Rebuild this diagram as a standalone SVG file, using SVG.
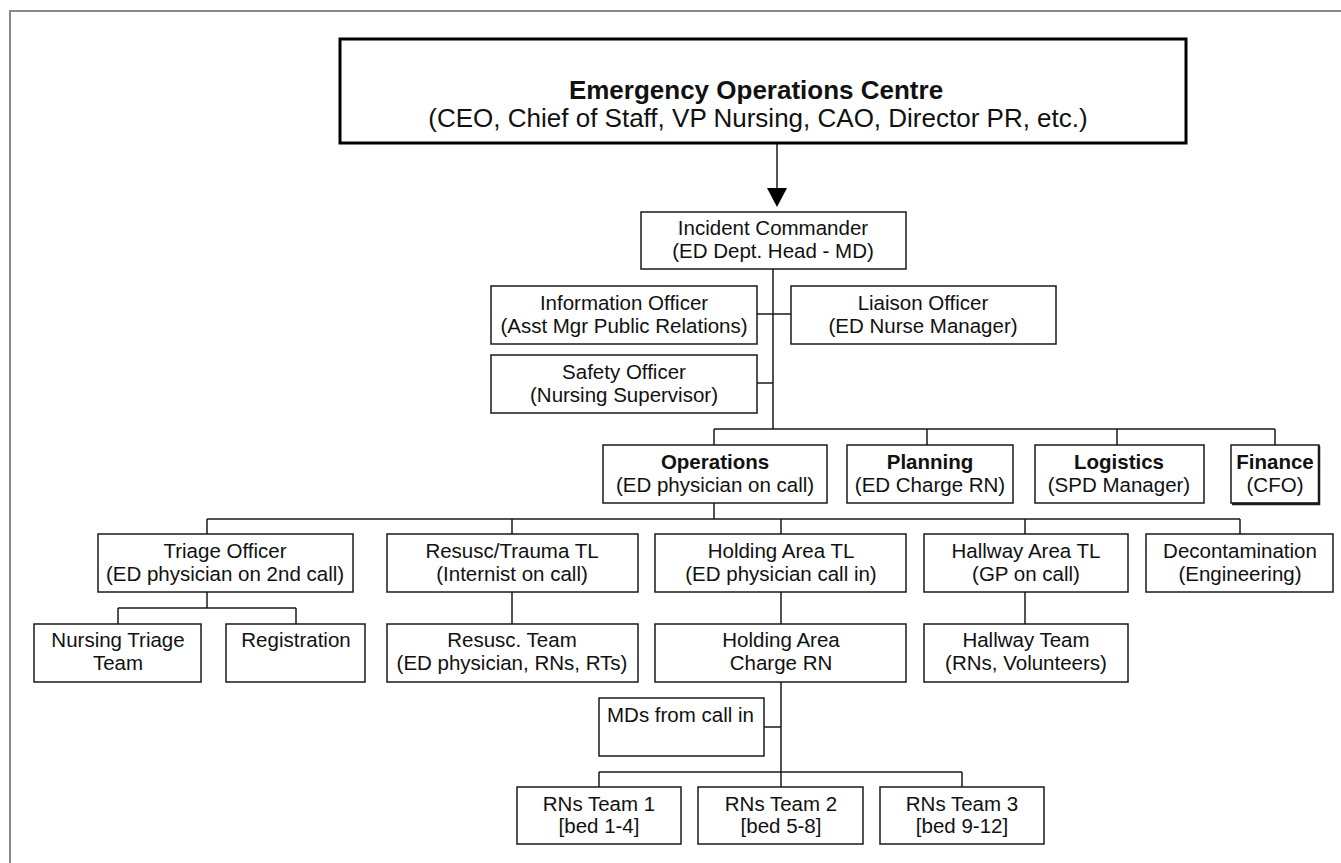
<svg xmlns="http://www.w3.org/2000/svg" width="1341" height="863" viewBox="0 0 1341 863">
<style>
.b{fill:#fff;stroke:#1a1a1a;stroke-width:1.5}
.c{fill:none;stroke:#1a1a1a;stroke-width:1.5}
text{font-family:"Liberation Sans",Arial,sans-serif;font-size:20.5px;fill:#111;text-anchor:middle}
.bo{font-weight:bold}
.t{font-size:26px}
</style>
<rect width="1341" height="863" fill="#fff"/>
<path d="M10,863 V11 H1341" fill="none" stroke="#8a8a8a" stroke-width="2"/>
<g id="connectors">
<line class="c" x1="777" y1="143" x2="777" y2="190"/>
<polygon points="767,188 787,188 777,207" fill="#000"/>
<path class="c" d="M773,269 V429 M757,314 H791 M757,383 H773 M714,429 H1275 M714,429 V445 M927,429 V445 M1117,429 V445 M1275,429 V445"/>
<path class="c" d="M714,503 V519 M207,519 H1240 M207,519 V534 M512,519 V534 M781,519 V534 M1025,519 V534 M1240,519 V534"/>
<path class="c" d="M207,592 V608 M118,608 H296 M118,608 V624 M296,608 V624 M512,592 V624 M781,592 V624 M1025,592 V624"/>
<path class="c" d="M781,682 V787 M764,727 H781 M599,772 H962 M599,772 V787 M962,772 V787"/>
</g>
<g id="eoc"><rect x="340" y="39" width="846" height="104" fill="#fff" stroke="#000" stroke-width="3"/>
<text class="t bo" x="756" y="99" font-size="27.5">Emergency Operations Centre</text>
<text class="t" x="758" y="127">(CEO, Chief of Staff, VP Nursing, CAO, Director PR, etc.)</text></g>
<g id="ic"><rect class="b" x="641" y="212" width="265" height="57"/><text x="773" y="235">Incident Commander</text><text x="773" y="258">(ED Dept. Head - MD)</text></g>
<g id="info"><rect class="b" x="491" y="286" width="266" height="58"/><text x="624" y="310">Information Officer</text><text x="624" y="333">(Asst Mgr Public Relations)</text></g>
<g id="liaison"><rect class="b" x="791" y="286" width="265" height="58"/><text x="923" y="310">Liaison Officer</text><text x="923" y="333">(ED Nurse Manager)</text></g>
<g id="safety"><rect class="b" x="491" y="355" width="266" height="58"/><text x="624" y="379">Safety Officer</text><text x="624" y="402">(Nursing Supervisor)</text></g>
<g id="operations"><rect class="b" x="603" y="445" width="224" height="58"/><text class="bo" x="715" y="469">Operations</text><text x="715" y="492">(ED physician on call)</text></g>
<g id="planning"><rect class="b" x="847" y="445" width="166" height="58"/><text class="bo" x="930" y="469">Planning</text><text x="930" y="492">(ED Charge RN)</text></g>
<g id="logistics"><rect class="b" x="1035" y="445" width="169" height="58"/><text class="bo" x="1119" y="469">Logistics</text><text x="1119" y="492">(SPD Manager)</text></g>
<g id="finance"><rect class="b" x="1231" y="445" width="88" height="58"/><path d="M1319,446 V504 H1232" fill="none" stroke="#1a1a1a" stroke-width="2.5"/><text class="bo" x="1275" y="469">Finance</text><text x="1275" y="492">(CFO)</text></g>
<g id="triage"><rect class="b" x="98" y="534" width="255" height="58"/><text x="225" y="558">Triage Officer</text><text x="225" y="581">(ED physician on 2nd call)</text></g>
<g id="resusc"><rect class="b" x="387" y="534" width="251" height="58"/><text x="512" y="558">Resusc/Trauma TL</text><text x="512" y="581">(Internist on call)</text></g>
<g id="holding"><rect class="b" x="655" y="534" width="251" height="58"/><text x="781" y="558">Holding Area TL</text><text x="781" y="581">(ED physician call in)</text></g>
<g id="hallway"><rect class="b" x="924" y="534" width="204" height="58"/><text x="1026" y="558">Hallway Area TL</text><text x="1026" y="581">(GP on call)</text></g>
<g id="decon"><rect class="b" x="1146" y="534" width="187" height="58"/><text x="1240" y="558">Decontamination</text><text x="1240" y="581">(Engineering)</text></g>
<g id="nursingtriage"><rect class="b" x="34" y="624" width="167" height="58"/><text x="118" y="647">Nursing Triage</text><text x="118" y="670">Team</text></g>
<g id="registration"><rect class="b" x="226" y="624" width="139" height="58"/><text x="296" y="647">Registration</text></g>
<g id="resuscteam"><rect class="b" x="387" y="624" width="251" height="58"/><text x="512" y="647">Resusc. Team</text><text x="512" y="670">(ED physician, RNs, RTs)</text></g>
<g id="holdingrn"><rect class="b" x="655" y="624" width="251" height="58"/><text x="781" y="647">Holding Area</text><text x="781" y="670">Charge RN</text></g>
<g id="hallwayteam"><rect class="b" x="924" y="624" width="204" height="58"/><text x="1026" y="647">Hallway Team</text><text x="1026" y="670">(RNs, Volunteers)</text></g>
<g id="mds"><rect class="b" x="599" y="698" width="165" height="58"/><text x="607" y="722" style="text-anchor:start">MDs from call in</text></g>
<g id="rn1"><rect class="b" x="517" y="787" width="164" height="57"/><text x="599" y="811">RNs Team 1</text><text x="599" y="833">[bed 1-4]</text></g>
<g id="rn2"><rect class="b" x="698" y="787" width="165" height="57"/><text x="781" y="811">RNs Team 2</text><text x="781" y="833">[bed 5-8]</text></g>
<g id="rn3"><rect class="b" x="880" y="787" width="164" height="57"/><text x="962" y="811">RNs Team 3</text><text x="962" y="833">[bed 9-12]</text></g>
</svg>
